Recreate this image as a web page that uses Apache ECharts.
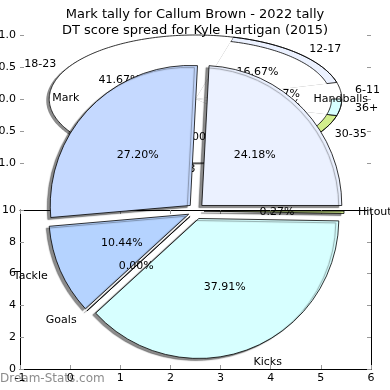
<!DOCTYPE html>
<html><head><meta charset="utf-8">
<script src="https://cdn.jsdelivr.net/npm/echarts@6/dist/echarts.min.js"></script>
<style>html,body{margin:0;padding:0;background:#fff}#c{width:390px;height:390px}</style>
</head><body><div id="c"></div>
<script>
const titleTop = 'Mark tally for Callum Brown - 2022 tally';
const titleSub = 'DT score spread for Kyle Hartigan (2015)';

// Mark tally (wedges run counter-clockwise from 3 o'clock)
const markCats = ['Handballs', 'Mark', 'Tackle', 'Goals', 'Kicks', 'Hitout'];
const markVals = [88, 99, 38, 0, 138, 1];
const markColors = ['#ebf1ff', '#c5d9ff', '#b5d3ff', '#ffffff', '#d7ffff', '#d2ee8c'];

// DT score spread (wedges run counter-clockwise from 3 o'clock)
const dtCats = ['6-11', '12-17', '18-23', '0-3', '30-35', '36+'];
const dtVals = [1, 4, 10, 6, 2, 1];
const dtColors = ['#ffffff', '#ebf1ff', '#ffffff', '#ffffff', '#d2ee8c', '#d7ffff'];

// tick values
const topYTicks = [-1, -0.5, 0, 0.5, 1];
const xTicks = [-1, 0, 1, 2, 3, 4, 5, 6];
const yTicks = [0, 2, 4, 6, 8, 10];

const FONT = '"DejaVu Sans", sans-serif';
const HOLE = 0.93;
const dtTotal = dtVals.reduce((a, b) => a + b, 0);
const dtStart = [], dtEnd = [];
{ let acc = 0; dtVals.forEach(v => { dtStart.push(acc / dtTotal * 2 * Math.PI); acc += v; dtEnd.push(acc / dtTotal * 2 * Math.PI); }); }

function arc(api, r, a0, a1) {
  const n = Math.max(2, Math.ceil(Math.abs(a1 - a0) / 0.02));
  const out = [];
  for (let k = 0; k <= n; k++) {
    const t = a0 + (a1 - a0) * k / n;
    out.push(api.coord([r * Math.cos(t), r * Math.sin(t)]));
  }
  return out;
}

function renderDT(params, api) {
  const i = params.dataIndex;
  const a0 = dtStart[i], a1 = dtEnd[i];
  const c = api.coord([0, 0]);
  const wedge = [c].concat(arc(api, 1, a0, a1));
  const outer = arc(api, 1, a0, a1);
  const inner = arc(api, HOLE, a1, a0);
  const ring = outer.concat(inner);
  const sh = wedge.map(p => [p[0] - 3, p[1] + 1.5]);
  const am = (a0 + a1) / 2;
  const lp = api.coord([1.1 * Math.cos(am), 1.1 * Math.sin(am)]);
  const pp = api.coord([0.6 * Math.cos(am), 0.6 * Math.sin(am)]);
  const pct = (dtVals[i] / dtTotal * 100).toFixed(2) + '%';
  const white = dtColors[i] === '#ffffff';
  const children = [
    { type: 'polygon', z2: 0, shape: { points: sh }, style: { fill: 'rgba(0,0,0,0.45)' } },
    { type: 'polygon', z2: 2, shape: { points: wedge }, style: { fill: '#ffffff' } },
    { type: 'polygon', z2: 3, shape: { points: ring }, style: { fill: dtColors[i], stroke: white ? null : '#000', lineWidth: 0.8 } },
    { type: 'polyline', z2: 4, shape: { points: outer }, style: { fill: null, stroke: '#000', lineWidth: 0.8 } },
    { type: 'text', z2: 6, x: lp[0], y: lp[1], style: { text: dtCats[i], fill: '#000', font: '11px ' + FONT, align: Math.cos(am) > 0 ? 'left' : 'right', verticalAlign: 'middle' } },
    { type: 'text', z2: 6, x: pp[0], y: pp[1], style: { text: pct, fill: '#000', font: '11px ' + FONT, align: 'center', verticalAlign: 'middle' } }
  ];
  return { type: 'group', children };
}

const tickStyle = { inside: true, length: 4, lineStyle: { color: '#999', width: 1 } };
const lineStyle = { show: true, onZero: false, lineStyle: { color: '#000', width: 1 } };
const hiddenLine = { show: false, onZero: false };
const lbl = { color: '#000', fontSize: 11, fontFamily: FONT, margin: 4, showMinLabel: true, showMaxLabel: true };

const chart = echarts.init(document.getElementById('c'), null, { renderer: 'canvas' });
chart.setOption({
  animation: false,
  backgroundColor: '#fff',
  title: [
    { text: titleTop, left: 'center', top: 3, textStyle: { fontSize: 13, fontWeight: 'normal', fontFamily: FONT, color: '#000' } },
    { text: titleSub, left: 'center', top: 19, textStyle: { fontSize: 13, fontWeight: 'normal', fontFamily: FONT, color: '#000' } }
  ],
  grid: [
    { left: 20, right: 19, top: 35, height: 128, containLabel: false, outerBoundsMode: 'none' },
    { left: 20, right: 19, top: 210, height: 159, containLabel: false, outerBoundsMode: 'none' }
  ],
  xAxis: [
    { gridIndex: 0, type: 'value', min: -1.2, max: 1.2, show: false, axisLine: { onZero: false } },
    { gridIndex: 1, type: 'value', position: 'bottom', min: xTicks[0], max: xTicks[xTicks.length - 1], interval: 1,
      axisLine: lineStyle, axisTick: tickStyle, axisLabel: lbl, splitLine: { show: false } },
    { gridIndex: 1, type: 'value', position: 'top', min: xTicks[0], max: xTicks[xTicks.length - 1], interval: 1,
      axisLine: lineStyle, axisTick: tickStyle, axisLabel: { show: false }, splitLine: { show: false } }
  ],
  yAxis: [
    { gridIndex: 0, type: 'value', position: 'left', min: topYTicks[0], max: topYTicks[topYTicks.length - 1], interval: 0.5,
      axisLine: hiddenLine, axisTick: tickStyle, axisLabel: Object.assign({}, lbl, { formatter: v => v.toFixed(1) }), splitLine: { show: false } },
    { gridIndex: 0, type: 'value', position: 'right', min: topYTicks[0], max: topYTicks[topYTicks.length - 1], interval: 0.5,
      axisLine: hiddenLine, axisTick: tickStyle, axisLabel: { show: false }, splitLine: { show: false } },
    { gridIndex: 1, type: 'value', position: 'left', min: yTicks[0], max: yTicks[yTicks.length - 1], interval: 2,
      axisLine: lineStyle, axisTick: tickStyle, axisLabel: lbl, splitLine: { show: false } },
    { gridIndex: 1, type: 'value', position: 'right', min: yTicks[0], max: yTicks[yTicks.length - 1], interval: 2,
      axisLine: lineStyle, axisTick: tickStyle, axisLabel: { show: false }, splitLine: { show: false } }
  ],
  graphic: [
    { type: 'text', left: 0, top: 373, z: 0, style: { text: 'Dream-Stats.com', fill: 'rgba(120,120,120,0.85)', font: '12px ' + FONT } }
  ],
  series: [
    {
      type: 'custom', name: 'DT', coordinateSystem: 'cartesian2d', xAxisIndex: 0, yAxisIndex: 0, z: 1,
      renderItem: renderDT, silent: true,
      data: dtVals.map((v, i) => ({ name: dtCats[i], value: [0, 0, v] }))
    },
    {
      type: 'pie', name: 'marks', z: 3, center: [196, 211], radius: 140, startAngle: 0, clockwise: false,
      selectedMode: 'multiple', selectedOffset: 8, avoidLabelOverlap: false, percentPrecision: 2, silent: true,
      itemStyle: { borderColor: '#000', borderWidth: 0.8, shadowColor: 'rgba(0,0,0,0.45)', shadowOffsetX: -3, shadowOffsetY: 2, shadowBlur: 1 },
      label: { show: true, position: 'inside', formatter: p => p.percent.toFixed(2) + '%', color: '#000', fontSize: 11, fontFamily: FONT },
      labelLine: { show: false }, emphasis: { disabled: true },
      data: markVals.map((v, i) => ({ value: v, name: markCats[i], selected: true, itemStyle: { color: markColors[i] } }))
    },
    {
      type: 'pie', name: 'markNames', z: 4, center: [196, 211], radius: 140, startAngle: 0, clockwise: false,
      selectedMode: 'multiple', selectedOffset: 8, avoidLabelOverlap: false, silent: true,
      itemStyle: { color: 'rgba(0,0,0,0)', borderWidth: 0 },
      label: { show: true, position: 'outside', formatter: '{b}', color: '#000', fontSize: 11, fontFamily: FONT, distanceToLabelLine: 0 },
      labelLine: { show: false, length: 14, length2: 0 }, emphasis: { disabled: true },
      data: markVals.map((v, i) => ({ value: v, name: markCats[i], selected: true }))
    }
  ]
});
</script></body></html>
